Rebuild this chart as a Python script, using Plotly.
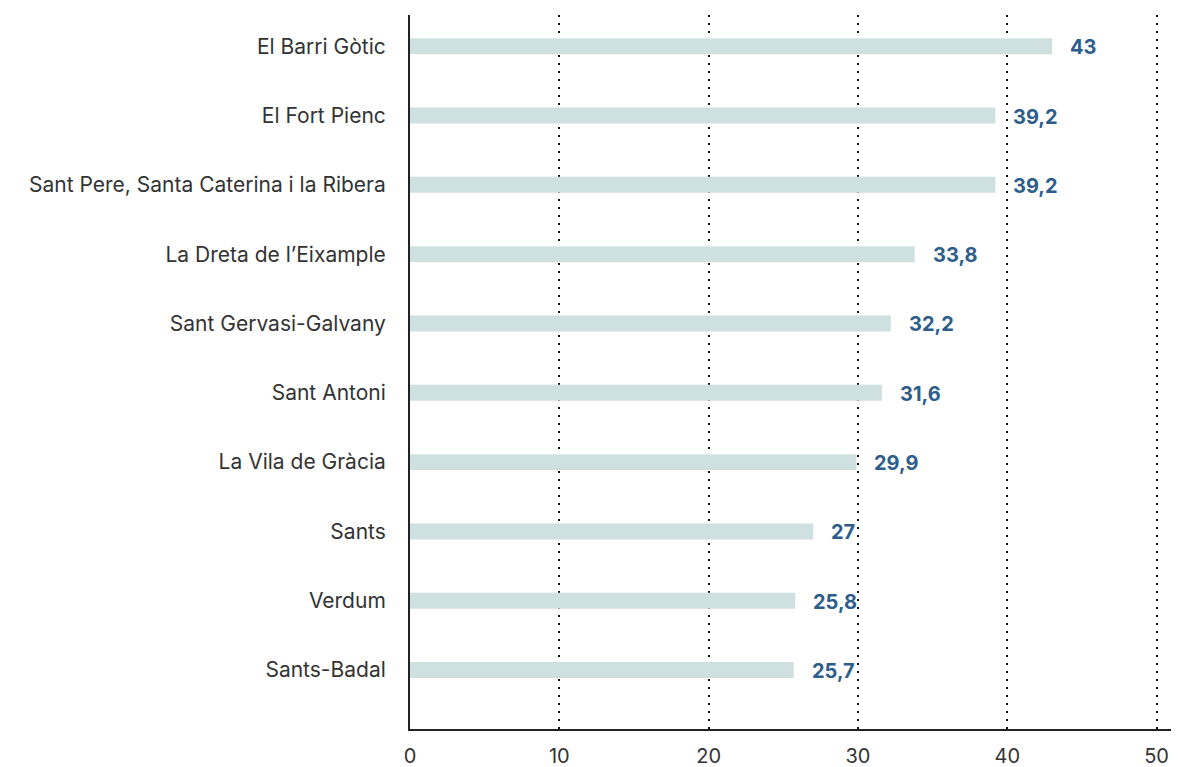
import plotly.graph_objects as go

categories = [
    "El Barri Gòtic",
    "El Fort Pienc",
    "Sant Pere, Santa Caterina i la Ribera",
    "La Dreta de l’Eixample",
    "Sant Gervasi-Galvany",
    "Sant Antoni",
    "La Vila de Gràcia",
    "Sants",
    "Verdum",
    "Sants-Badal",
]
values = [43, 39.2, 39.2, 33.8, 32.2, 31.6, 29.9, 27, 25.8, 25.7]
value_labels = ["43", "39,2", "39,2", "33,8", "32,2", "31,6", "29,9", "27", "25,8", "25,7"]
x_ticks = [0, 10, 20, 30, 40, 50]

FONT = "Inter"
PAGE_PAD = 8  # default body margin of the html page

fig = go.Figure()
fig.add_trace(go.Bar(
    x=values,
    y=categories,
    orientation="h",
    width=0.23,
    marker=dict(color="#cfe0e1", line=dict(width=0)),
    hoverinfo="skip",
))

for v, c, t in zip(values, categories, value_labels):
    fig.add_annotation(
        x=v, y=c, text=f"<b>{t}</b>", showarrow=False,
        xanchor="left", yanchor="middle", xshift=16, yshift=-1,
        font=dict(family=FONT, size=20, color="#2d5e8b"),
    )

fig.update_layout(
    width=1179 - PAGE_PAD, height=767 - PAGE_PAD,
    margin=dict(l=410 - PAGE_PAD, r=0, t=15 - PAGE_PAD, b=38),
    paper_bgcolor="white", plot_bgcolor="white",
    showlegend=False,
    font=dict(family=FONT, size=20, color="#333333"),
    xaxis=dict(
        range=[0, 51.5],
        tickvals=x_ticks,
        ticktext=[str(t) for t in x_ticks],
        showgrid=True, gridcolor="#111111", gridwidth=2, griddash="2px,6px",
        zeroline=False,
        showline=True, linecolor="#222222", linewidth=2,
        ticks="", ticklabelstandoff=8,
        tickfont=dict(family=FONT, size=20, color="#333333"),
        fixedrange=True,
    ),
    yaxis=dict(
        type="category",
        categoryorder="array", categoryarray=categories,
        range=[9.85, -0.45],
        showgrid=False, zeroline=False,
        showline=True, linecolor="#222222", linewidth=2,
        ticks="", ticklabelstandoff=18,
        tickfont=dict(family=FONT, size=21, color="#333333"),
        fixedrange=True,
    ),
)

fig.write_html("out.html")
